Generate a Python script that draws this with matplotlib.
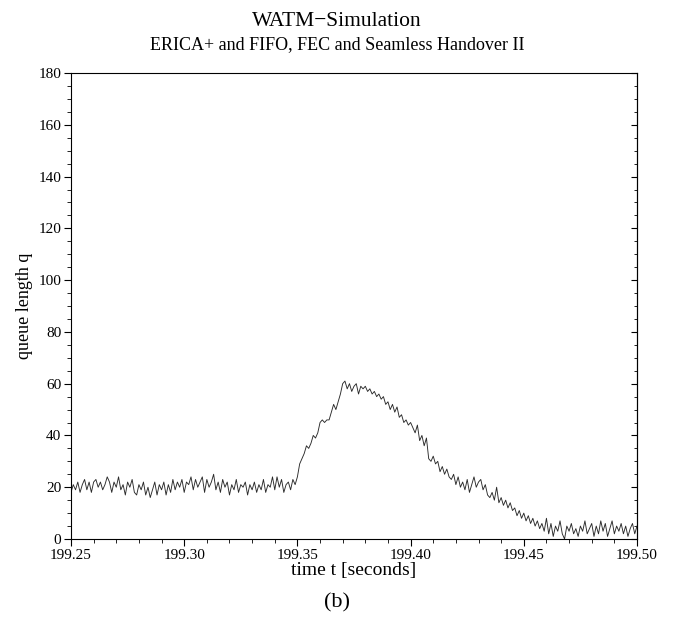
import numpy as np
import matplotlib
matplotlib.use("Agg")
import matplotlib.pyplot as plt
from matplotlib.ticker import MultipleLocator, FormatStrFormatter

plt.rcParams['font.family'] = ['Liberation Serif', 'DejaVu Serif']

# sampling of the trace (seconds)
t_start = 199.250
t_step = 0.001

# queue length, one value per millisecond
q_base = [18, 21, 19, 22, 18, 21, 23, 19, 22, 18, 22, 23, 20, 22, 19, 21, 24, 22, 18, 22,
          20, 24, 19, 21, 17, 22, 20, 23, 18, 17, 21, 19, 22, 17, 20, 16, 19, 22, 17, 21,
          19,
          22, 17, 21, 18, 23, 19, 22, 20, 23, 18, 22, 21, 24, 19, 23, 20, 22, 24, 18, 23,
          20, 22, 25, 19, 22, 18, 23, 20, 22, 17, 21, 19, 23, 18, 21, 20, 22, 17, 21, 19,
          22, 18, 21, 19, 23, 18, 21, 20, 24, 19,
          24, 20, 23, 18, 21, 22, 19, 23, 21, 24]
q_rise = [29, 31, 33, 36, 35, 37, 40, 39, 41, 45, 46, 45, 46, 46, 49, 52, 50, 53, 56, 60]
q_peak = [61, 58, 60, 57, 59, 60, 56, 59, 58, 59, 57, 58, 56, 57, 55]
q_fall = [56, 54, 55, 52, 53, 50, 52, 49, 51, 47, 48, 45, 46, 44, 45,
          43, 41, 44, 38, 40, 36, 39, 31, 30, 32, 29, 30, 26, 28, 25,
          27, 24, 23, 25, 21, 24, 20, 22, 19, 23, 18, 21, 24, 20, 22,
          23, 19, 21, 17, 16, 18, 15, 20, 14, 16, 13, 15, 12, 14, 11,
          12, 9, 11, 8, 10, 7, 9, 6, 8, 5, 7, 4, 6, 3, 8]
q_tail = [2, 6, 1, 5, 3, 7, 2, 0, 5, 3, 6, 2, 4, 1, 5, 3, 7, 2, 4, 6,
          1, 5, 2, 7, 3, 6, 1, 4, 7, 2, 5, 3, 6, 2, 5, 1, 4, 6, 2, 5]

q = np.array(q_base + q_rise + q_peak + q_fall + q_tail, dtype=float)
t = t_start + t_step * np.arange(len(q))

fig = plt.figure(figsize=(6.74, 6.18), dpi=100)
ax = fig.add_axes([71 / 674, 1 - 539 / 618, 566 / 674, 466 / 618])

ax.plot(t, q, color='#2a2a2a', linewidth=0.65)

ax.set_xlim(199.25, 199.50)
ax.set_ylim(0, 180)
ax.xaxis.set_major_locator(MultipleLocator(0.05))
ax.xaxis.set_minor_locator(MultipleLocator(0.01))
ax.xaxis.set_major_formatter(FormatStrFormatter('%.2f'))
ax.yaxis.set_major_locator(MultipleLocator(20))
ax.yaxis.set_minor_locator(MultipleLocator(5))
ax.tick_params(which='major', direction='out', length=5, width=0.8, labelsize=11, pad=2)
ax.tick_params(which='minor', direction='out', length=3, width=0.6)
for s in ax.spines.values():
    s.set_linewidth(0.8)

# inward ticks on the right-hand frame
sec = ax.secondary_yaxis('right')
sec.yaxis.set_major_locator(MultipleLocator(20))
sec.yaxis.set_minor_locator(MultipleLocator(5))
sec.tick_params(which='both', direction='in', labelright=False)
sec.tick_params(which='major', length=4)
sec.tick_params(which='minor', length=2)

ax.set_ylabel('queue length q', fontsize=13, labelpad=4)
ax.set_xlabel('time t [seconds]', fontsize=14, labelpad=0)

fig.text(0.5, 1 - 21 / 618, 'WATM\u2212Simulation', ha='center', va='center', fontsize=15.5)
fig.text(0.5, 1 - 45 / 618, 'ERICA+ and FIFO, FEC and Seamless Handover II',
         ha='center', va='center', fontsize=13)
fig.text(0.5, 1 - 603 / 618, '(b)', ha='center', va='center', fontsize=16)

fig.savefig('out.png', dpi=100)
